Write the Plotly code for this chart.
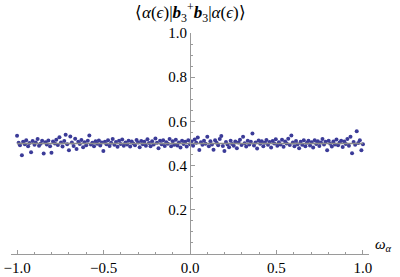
import plotly.graph_objects as go

omega = [-1.000,-0.991,-0.983,-0.972,-0.965,-0.955,-0.947,-0.936,-0.928,-0.919,
-0.910,-0.899,-0.892,-0.881,-0.873,-0.864,-0.855,-0.846,-0.836,-0.828,
-0.819,-0.809,-0.801,-0.792,-0.781,-0.773,-0.764,-0.755,-0.746,-0.737,
-0.727,-0.719,-0.710,-0.700,-0.692,-0.683,-0.673,-0.664,-0.656,-0.646,
-0.637,-0.628,-0.618,-0.610,-0.600,-0.591,-0.582,-0.573,-0.564,-0.555,
-0.546,-0.537,-0.527,-0.519,-0.510,
-0.501,-0.492,-0.483,-0.474,-0.465,-0.456,-0.447,-0.437,-0.428,-0.419,
-0.410,-0.401,-0.392,-0.383,-0.373,-0.364,-0.355,-0.346,-0.337,-0.328,
-0.318,-0.309,-0.300,-0.291,-0.282,-0.273,-0.264,-0.255,-0.246,-0.237,
-0.228,-0.219,-0.210,-0.200,-0.191,-0.182,-0.173,-0.164,-0.155,-0.146,
-0.137,-0.128,-0.118,-0.109,-0.100,-0.091,-0.082,-0.073,-0.064,-0.055,
-0.046,-0.037,-0.028,-0.019,-0.010,
0.000,0.009,0.018,0.027,0.036,0.045,0.054,0.063,0.072,0.081,
0.090,0.100,0.109,0.118,0.127,0.136,0.145,0.154,0.163,0.172,
0.181,0.190,0.199,0.208,0.217,0.226,0.235,0.244,0.253,0.262,
0.271,0.280,0.289,0.298,0.307,0.316,0.325,0.334,0.343,0.352,
0.361,0.370,0.379,0.388,0.397,0.406,0.415,0.424,0.433,0.442,
0.451,0.460,0.469,0.478,0.487,0.496,
0.505,0.514,0.523,0.532,0.541,0.550,0.559,0.568,0.577,0.586,
0.595,0.604,0.613,0.622,0.631,0.640,0.649,0.658,0.667,0.676,
0.685,0.694,0.703,0.712,0.721,0.730,0.739,0.748,0.757,0.766,
0.775,0.784,0.793,0.802,0.811,0.820,0.829,0.838,0.847,0.856,
0.865,0.874,0.883,0.892,0.901,0.910,0.919,0.928,0.937,0.946,
0.955,0.964,0.973,0.982,0.991,1.000]

expect = [0.535,0.503,0.492,0.447,0.508,0.497,0.515,0.488,0.502,0.460,
0.511,0.494,0.505,0.520,0.490,0.499,0.512,0.455,0.506,0.495,
0.514,0.488,0.458,0.509,0.500,0.517,0.493,0.528,0.504,0.486,
0.511,0.540,0.497,0.470,0.532,0.505,0.489,0.521,0.475,0.508,
0.498,0.516,0.483,0.506,0.492,0.512,0.536,0.495,0.503,0.487,
0.510,0.499,0.514,0.491,0.505,
0.466,0.508,0.497,0.515,0.489,0.503,0.520,0.494,0.507,0.485,
0.512,0.498,0.518,0.490,0.504,0.496,0.513,0.486,0.509,0.500,
0.492,0.516,0.505,0.483,0.511,0.497,0.508,0.490,0.519,0.502,
0.488,0.510,0.495,0.523,0.503,0.479,0.512,0.497,0.515,0.489,
0.506,0.499,0.520,0.487,0.510,0.494,0.517,0.491,0.505,0.482,
0.513,0.498,0.508,0.486,0.515,
0.497,0.509,0.490,0.518,0.503,0.527,0.471,0.506,0.494,0.512,
0.499,0.530,0.487,0.510,0.496,0.472,0.515,0.503,0.492,0.520,
0.534,0.489,0.466,0.507,0.495,0.483,0.512,0.498,0.490,0.509,
0.478,0.504,0.517,0.493,0.531,0.501,0.486,0.512,0.496,0.508,
0.545,0.491,0.505,0.477,0.514,0.499,0.510,0.488,0.503,0.516,
0.494,0.507,0.482,0.511,0.500,0.519,
0.490,0.506,0.496,0.517,0.485,0.509,0.500,0.522,0.493,0.536,
0.504,0.488,0.511,0.497,0.478,0.508,0.494,0.515,0.487,0.503,
0.512,0.491,0.506,0.482,0.515,0.498,0.510,0.489,0.504,0.520,
0.495,0.508,0.470,0.513,0.499,0.486,0.509,0.496,0.518,0.492,
0.505,0.513,0.484,0.509,0.498,0.520,0.490,0.531,0.456,0.507,
0.494,0.555,0.502,0.515,0.470,0.497]

mean_x = [-1.0, 1.0]
mean_y = [0.5, 0.5]

y_ticks = [0.2, 0.4, 0.6, 0.8, 1.0]
y_labels = ["0.2", "0.4", "0.6", "0.8", "1.0"]
x_ticks = [-1.0, -0.5, 0.0, 0.5, 1.0]
x_labels = ["\u22121.0", "\u22120.5", "0.0", "0.5", "1.0"]

FONT = "Liberation Serif"
AX = "#9a9a9a"

fig = go.Figure()
fig.add_trace(go.Scatter(x=omega, y=expect, mode="markers",
                         marker=dict(color="#3b3b98", size=4, line=dict(width=0)),
                         showlegend=False, hoverinfo="skip"))
fig.add_trace(go.Scatter(x=mean_x, y=mean_y, mode="lines",
                         line=dict(color="#8c8c8c", width=1.6),
                         showlegend=False, hoverinfo="skip"))

fig.update_layout(
    width=400, height=277,
    margin=dict(l=11, r=31, t=33, b=23, autoexpand=False),
    paper_bgcolor="white", plot_bgcolor="white",
    font=dict(family=FONT, size=14, color="black"),
    xaxis=dict(range=[-1.035, 1.035], showgrid=False, zeroline=False,
               automargin=False,
               showline=True, linecolor=AX, linewidth=1,
               tickvals=x_ticks, ticktext=x_labels,
               ticks="inside", ticklen=4, tickcolor=AX, tickwidth=1,
               minor=dict(dtick=0.1, tick0=0, ticks="inside", ticklen=2, tickcolor=AX),
               tickfont=dict(family=FONT, size=15)),
    yaxis=dict(range=[0, 1.0], showgrid=False, zeroline=False,
               automargin=False,
               anchor="free", position=0.5,
               showline=True, linecolor=AX, linewidth=1,
               tickvals=y_ticks, ticktext=y_labels,
               ticks="inside", ticklen=4, tickcolor=AX, tickwidth=1,
               minor=dict(dtick=0.05, tick0=0, ticks="inside", ticklen=2, tickcolor=AX),
               tickfont=dict(family=FONT, size=15)),
)

fig.add_annotation(xref="x", yref="paper", x=0, y=1.0, yanchor="bottom", yshift=6,
                   showarrow=False,
                   text="\u27e8<i>\u03b1</i>(<i>\u03f5</i>)|<b><i>b</i></b><sub>3</sub><sup>+</sup><b><i>b</i></b><sub>3</sub>|<i>\u03b1</i>(<i>\u03f5</i>)\u27e9",
                   font=dict(family=FONT, size=17, color="black"))
fig.add_annotation(xref="paper", yref="y", x=1.0, y=0, xanchor="left", yanchor="bottom",
                   xshift=4, yshift=-2, showarrow=False,
                   text="<i>\u03c9</i><sub><i>\u03b1</i></sub>",
                   font=dict(family=FONT, size=15, color="black"))

fig.write_html("out.html", config={"displayModeBar": False},
               post_script="document.body.style.margin='0px';")
